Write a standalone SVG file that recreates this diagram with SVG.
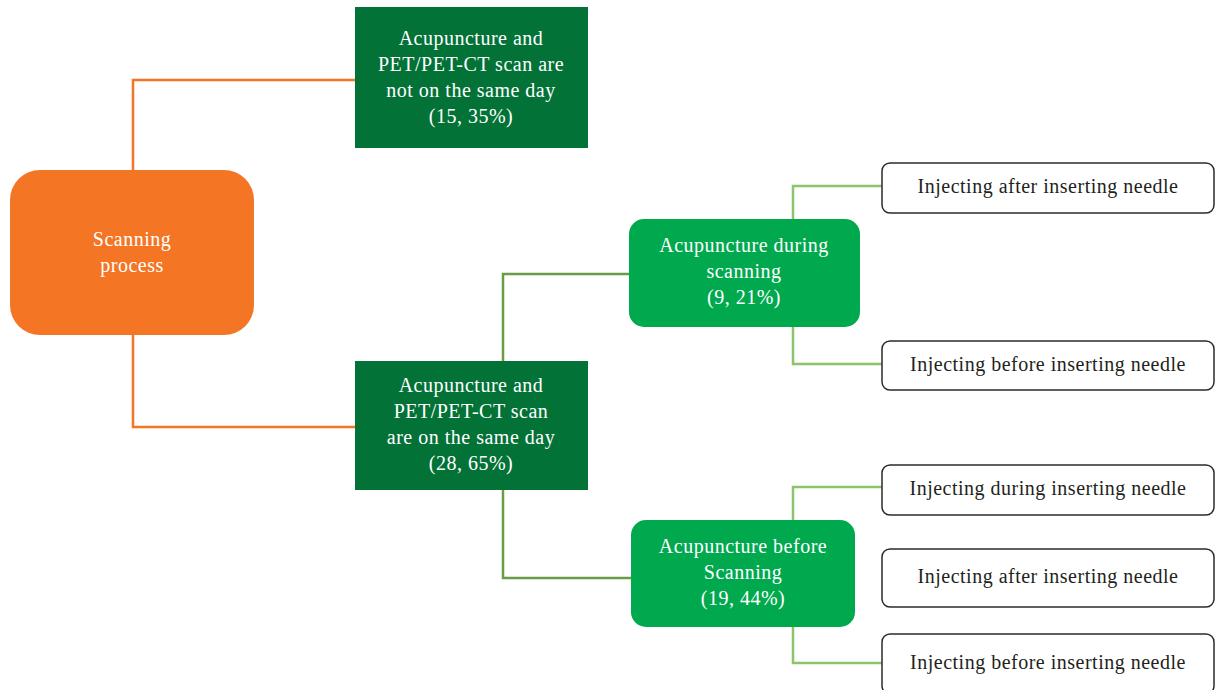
<svg xmlns="http://www.w3.org/2000/svg" width="1215" height="690" viewBox="0 0 1215 690">
<style>
text{font-family:"Liberation Serif","Times New Roman",serif;font-size:20px;letter-spacing:0.5px;text-anchor:middle}
.w{fill:#ffffff}
.k{fill:#231f20}
.or{fill:none;stroke:#f47524;stroke-width:2.5}
.dg{fill:none;stroke:#6a9b45;stroke-width:2.5}
.lg{fill:none;stroke:#8cc46c;stroke-width:2.5}
.opt{fill:#ffffff;stroke:#2b2b2b;stroke-width:1.5}
</style>
<rect width="1215" height="690" fill="#ffffff"/>
<g id="connectors">
<polyline class="or" points="133,170 133,80 355,80"/>
<polyline class="or" points="133,335 133,427 355,427"/>
<polyline class="dg" points="503,361 503,274 629,274"/>
<polyline class="dg" points="503,490 503,578 631,578"/>
<polyline class="lg" points="793,219 793,186 882,186"/>
<polyline class="lg" points="793,327 793,364 882,364"/>
<polyline class="lg" points="793,520 793,487 882,487"/>
<polyline class="lg" points="793,627 793,663 882,663"/>
</g>
<g id="scanning-process">
<rect x="10" y="170" width="244" height="165" rx="30" fill="#f47524"/>
<text class="w" x="132" y="246">Scanning</text>
<text class="w" x="132" y="272">process</text>
</g>
<g id="not-same-day">
<rect x="355" y="7" width="233" height="141" fill="#027237"/>
<text class="w" x="471" y="45">Acupuncture and</text>
<text class="w" x="471" y="71">PET/PET-CT scan are</text>
<text class="w" x="471" y="97">not on the same day</text>
<text class="w" x="471" y="123">(15, 35%)</text>
</g>
<g id="same-day">
<rect x="355" y="361" width="233" height="129" fill="#027237"/>
<text class="w" x="471" y="392">Acupuncture and</text>
<text class="w" x="471" y="418">PET/PET-CT scan</text>
<text class="w" x="471" y="444">are on the same day</text>
<text class="w" x="471" y="470">(28, 65%)</text>
</g>
<g id="during-scanning">
<rect x="629" y="219" width="231" height="108" rx="15" fill="#00a94e"/>
<text class="w" x="744" y="252">Acupuncture during</text>
<text class="w" x="744" y="278">scanning</text>
<text class="w" x="744" y="304">(9, 21%)</text>
</g>
<g id="before-scanning">
<rect x="631" y="520" width="224" height="107" rx="15" fill="#00a94e"/>
<text class="w" x="743" y="553">Acupuncture before</text>
<text class="w" x="743" y="579">Scanning</text>
<text class="w" x="743" y="605">(19, 44%)</text>
</g>
<g id="during-after">
<rect class="opt" x="882" y="163" width="332" height="50" rx="8"/>
<text class="k" x="1048" y="193">Injecting after inserting needle</text>
</g>
<g id="during-before">
<rect class="opt" x="882" y="341" width="332" height="49" rx="8"/>
<text class="k" x="1048" y="371">Injecting before inserting needle</text>
</g>
<g id="before-during">
<rect class="opt" x="882" y="465" width="332" height="50" rx="8"/>
<text class="k" x="1048" y="495">Injecting during inserting needle</text>
</g>
<g id="before-after">
<rect class="opt" x="882" y="549" width="332" height="58" rx="8"/>
<text class="k" x="1048" y="583">Injecting after inserting needle</text>
</g>
<g id="before-before">
<rect class="opt" x="882" y="634" width="332" height="60" rx="8"/>
<text class="k" x="1048" y="669">Injecting before inserting needle</text>
</g>
</svg>
